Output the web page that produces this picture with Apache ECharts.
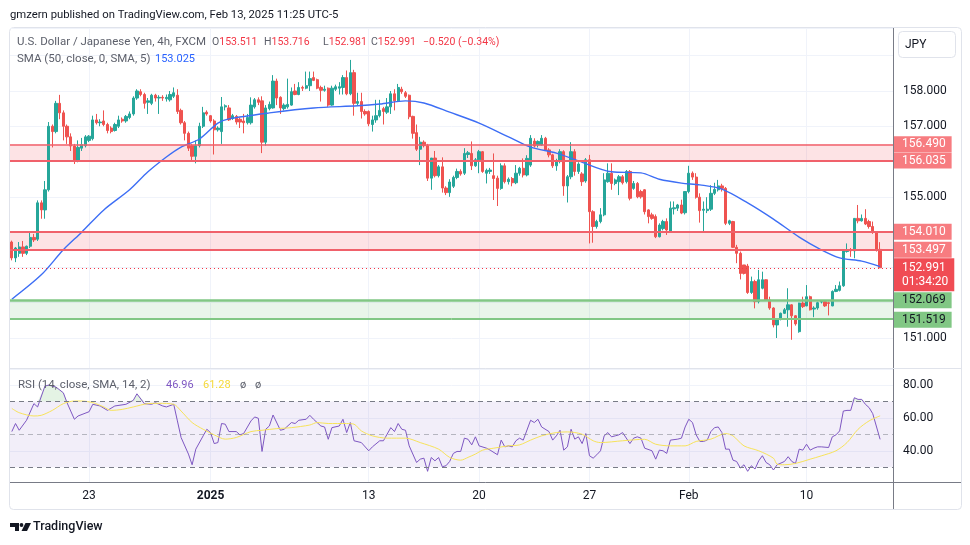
<!DOCTYPE html>
<html>
<head>
<meta charset="utf-8">
<script src="https://cdn.jsdelivr.net/npm/echarts@6.0.0/dist/echarts.min.js"></script>
<style>
html, body { margin: 0; padding: 0; background: #fff; }
#chart { width: 970px; height: 545px; }
</style>
</head>
<body>
<div id="chart"></div>
<script>
// USDJPY 4h candles, [open, high, low, close]
var candles = [
    // Dec 19 - Dec 31
    [153.72,153.76,153.20,153.27],[153.27,153.58,153.15,153.55],[153.40,153.72,153.30,153.58],[153.58,153.75,153.30,153.40],
    [153.40,153.62,153.35,153.60],[153.60,154.00,153.55,153.85],[153.85,153.95,153.72,153.78],[153.80,154.90,153.75,154.83],
    [154.83,154.90,154.38,154.63],[154.63,155.45,154.38,155.20],[155.20,157.12,155.15,157.00],[157.00,157.05,156.40,156.85],
    [156.85,157.72,156.80,157.65],[157.65,157.89,157.20,157.38],[157.38,157.45,156.60,157.00],[157.00,157.05,156.50,156.70],
    [156.70,156.80,156.30,156.44],[156.44,156.50,155.93,156.02],[156.02,156.60,155.98,156.40],[156.38,156.67,156.30,156.48],
    [156.45,156.75,156.40,156.70],[156.60,156.75,156.55,156.72],[156.65,157.30,156.60,157.18],[157.18,157.35,157.05,157.10],
    [157.10,157.20,157.00,157.12],[157.15,157.45,157.00,157.05],[157.05,157.10,156.80,156.88],[156.95,157.00,156.80,156.85],
    [156.88,157.10,156.85,157.05],[157.00,157.30,156.95,157.18],[157.20,157.25,157.10,157.15],[157.15,157.32,157.10,157.28],
    [157.25,157.42,157.20,157.35],[157.35,157.85,157.30,157.80],[157.80,158.05,157.75,158.00],[157.98,158.05,157.85,157.90],
    [157.90,157.95,157.50,157.65],[157.68,157.80,157.35,157.72],[157.65,157.92,157.60,157.88],[157.88,157.92,157.70,157.80],
    [157.80,157.88,157.35,157.82],[157.82,157.88,157.72,157.80],[157.78,157.90,157.70,157.82],[157.75,158.00,157.70,157.90],
    [157.85,158.10,157.80,157.95],[157.88,158.05,157.35,157.42],[157.45,157.50,157.05,157.10],[157.10,157.15,156.60,156.80],
    [156.80,156.85,156.30,156.38],[156.45,156.50,156.00,156.15],[156.15,156.60,155.95,156.45],[156.45,157.10,156.40,157.00],
    [157.00,157.55,156.95,157.38],[157.40,157.45,157.30,157.35],[157.30,157.32,157.10,157.15],[157.15,157.20,156.20,156.90],
    [156.90,157.00,156.85,156.95],[156.85,157.83,156.50,157.55],[157.55,157.62,157.45,157.58],
    // Jan 2 - Jan 17
    [157.52,157.60,157.15,157.18],[157.22,157.35,157.18,157.30],[157.28,157.32,157.05,157.12],[157.20,157.25,156.95,157.12],
    [157.15,157.35,156.80,157.10],[157.10,157.35,157.05,157.25],[157.10,157.82,157.05,157.60],[157.55,157.80,157.50,157.75],
    [157.75,157.82,157.60,157.68],[157.72,157.85,156.24,156.55],[156.55,157.60,156.45,157.52],[157.50,157.70,157.45,157.62],
    [157.52,158.45,157.50,158.28],[158.28,158.35,157.60,157.80],[157.82,157.85,157.35,157.52],[157.50,157.65,157.45,157.60],
    [157.55,158.35,157.50,157.62],[157.60,158.10,157.58,157.98],[158.00,158.20,157.88,157.90],[157.90,158.25,157.88,158.10],
    [158.10,158.15,158.00,158.08],[158.08,158.55,158.05,158.15],[158.15,158.55,158.00,158.35],[158.38,158.55,158.28,158.30],
    [158.32,158.35,158.05,158.08],[158.10,158.15,157.70,158.02],[158.02,158.15,157.98,158.05],[158.08,158.10,157.55,157.60],
    [157.60,158.15,157.58,158.08],[158.05,158.18,158.00,158.12],[158.08,158.25,157.90,158.12],[158.10,158.45,157.90,158.38],
    [158.38,158.58,157.88,157.92],[157.92,158.88,157.88,158.52],[158.52,158.60,157.30,157.65],[157.65,157.95,157.60,157.70],
    [157.70,157.95,157.22,157.42],[157.42,157.48,157.30,157.35],[157.42,157.45,157.00,157.07],[157.05,157.30,156.85,157.18],
    [157.18,157.75,157.10,157.30],[157.30,157.75,157.25,157.45],[157.50,157.55,157.05,157.42],[157.40,157.80,157.35,157.55],
    [157.55,158.00,157.35,157.92],[157.92,158.05,157.45,157.72],[157.72,158.20,157.70,158.10],[158.05,158.12,157.92,157.98],
    [157.95,158.00,157.80,157.85],[157.88,157.90,157.20,157.27],[157.28,157.30,156.65,156.80],[156.82,157.05,156.30,156.35],
    [156.35,156.70,155.90,156.55],[156.55,156.60,156.40,156.45],[156.45,156.50,155.45,155.53],[155.53,156.10,155.20,156.10],
    [156.10,156.30,155.55,155.60],[155.60,155.90,155.55,155.85],[155.85,156.12,155.12,155.25],[155.25,155.30,155.05,155.12],
    [155.12,155.50,155.00,155.42],
    // Jan 20 - Jan 31
    [155.30,155.60,155.25,155.55],[155.55,155.80,155.50,155.72],[155.72,155.78,155.60,155.65],[155.67,156.38,155.62,156.23],
    [156.20,156.30,156.10,156.25],[156.23,156.57,155.76,155.88],[155.88,156.10,155.85,156.05],[156.05,156.33,155.67,156.28],
    [156.28,156.30,155.68,155.72],[155.67,155.80,155.38,155.75],[155.72,155.82,155.65,155.76],[155.60,156.23,154.91,155.52],
    [155.53,155.60,154.74,155.24],[155.24,155.95,155.20,155.88],[155.88,155.95,155.38,155.43],[155.43,155.55,155.35,155.50],
    [155.52,155.56,155.30,155.40],[155.40,155.90,155.36,155.67],[155.67,155.85,155.60,155.81],[155.81,156.09,155.55,155.62],
    [155.62,156.18,155.58,156.09],[155.90,156.75,155.85,156.66],[156.58,156.66,156.40,156.44],[156.47,156.60,156.40,156.57],
    [156.47,156.75,156.45,156.66],[156.66,156.70,156.30,156.33],[156.33,156.38,156.12,156.19],[156.19,156.22,155.82,155.88],
    [155.88,156.08,155.74,156.02],[156.00,156.35,155.95,156.28],[156.28,156.32,155.03,155.31],[155.31,155.62,154.84,155.57],
    [155.57,156.55,155.50,156.28],[156.28,156.35,155.60,155.72],[155.72,155.98,155.65,155.93],[155.65,155.70,155.31,155.43],
    [155.45,156.10,155.40,156.05],[156.05,156.19,153.68,154.58],[154.58,154.62,153.70,154.16],[154.16,154.35,154.10,154.30],
    [154.30,154.68,154.25,154.49],[154.49,155.67,154.45,155.48],[155.43,155.95,155.40,155.67],[155.67,155.95,155.20,155.38],
    [155.38,155.52,155.33,155.48],[155.43,155.62,155.05,155.57],[155.57,155.62,155.35,155.40],[155.43,155.76,155.38,155.72],
    [155.72,155.76,154.90,154.96],[155.24,155.45,155.20,155.38],[155.38,155.42,154.96,155.00],[155.15,155.20,154.95,155.00],
    [155.20,155.22,154.50,154.58],[154.63,154.65,154.25,154.44],[154.49,154.55,154.35,154.39],[154.44,154.50,153.83,153.87],
    [153.87,154.25,153.85,154.20],[154.10,154.35,154.05,154.30],[154.30,154.39,153.92,154.06],
    // Feb 2 - Feb 13
    [154.02,154.87,153.99,154.68],[154.66,154.87,154.50,154.69],[154.68,154.80,154.60,154.77],[154.77,154.92,154.51,154.54],
    [154.55,155.15,154.50,155.15],[155.15,155.88,155.10,155.67],[155.67,155.72,155.48,155.56],[155.56,155.67,154.95,154.99],
    [154.99,155.10,154.27,154.61],[154.62,154.87,154.00,154.65],[154.61,154.99,154.54,154.65],[154.65,155.33,154.60,155.10],
    [155.10,155.40,155.05,155.21],[155.20,155.48,155.15,155.31],[155.31,155.37,155.15,155.24],[155.24,155.28,154.20,154.25],
    [154.25,154.35,154.20,154.32],[154.30,154.32,153.55,153.57],[153.57,153.64,153.12,153.40],[153.40,153.45,152.66,152.83],
    [153.07,153.07,152.80,152.83],[153.04,153.10,152.25,152.29],[152.29,152.74,152.25,152.60],[152.60,152.65,151.84,152.03],
    [152.03,152.93,151.98,152.65],[152.41,152.88,152.38,152.65],[152.65,152.66,152.05,152.08],[152.08,152.17,151.80,151.85],
    [151.85,151.87,151.30,151.37],[151.37,151.55,151.00,151.53],[151.53,151.72,151.50,151.70],[151.70,151.85,151.68,151.80],
    [151.80,152.41,151.32,151.94],[151.94,151.96,150.95,151.63],[151.63,151.65,151.35,151.40],[151.18,152.00,151.15,151.99],
    [151.99,152.17,151.85,151.89],[151.91,152.50,151.90,152.17],[152.17,152.20,151.78,151.80],[151.82,151.90,151.59,151.85],
    [151.85,152.03,151.80,152.00],[152.02,152.06,151.98,152.03],[152.03,152.06,151.88,151.91],[152.00,152.03,151.64,151.98],
    [151.91,152.35,151.90,152.32],[152.32,152.50,152.30,152.38],[152.35,152.60,152.32,152.48],[152.48,153.50,152.45,153.47],
    [153.45,153.68,153.42,153.50],[153.50,153.55,153.30,153.47],[153.47,154.40,153.26,154.39],[154.39,154.77,154.25,154.32],
    [154.32,154.50,154.30,154.39],[154.39,154.65,154.20,154.23],[154.30,154.35,154.10,154.16],[154.16,154.30,153.95,153.99],
    [153.99,154.00,153.45,153.50],[153.511,153.716,152.981,152.991]
];

// SMA(50) line, [candle index, value]
var smaPoints = [
    [0,152.10],[8,152.79],[14,153.50],[19,154.00],[25,154.63],[32,155.20],[37,155.71],[42,156.13],[46,156.41],
    [51,156.64],[56,157.09],[59,157.21],[70,157.38],[82,157.52],[94,157.58],[100,157.63],[107,157.72],[112,157.66],
    [119,157.40],[127,157.09],[135,156.70],[141,156.41],[148,156.24],[154,156.02],[163,155.71],[171,155.68],
    [176,155.50],[182,155.39],[187,155.34],[193,155.22],[200,154.83],[207,154.37],[214,153.86],[220,153.50],
    [225,153.27],[231,153.18],[236,153.025]
];

// RSI(14), [candle index, value]
var rsiPoints = [
    [0,51.7],[1,56.6],[2,52.5],[4,58.6],[6,68.7],[7,66.7],[9,79.4],[10,80],[12,78.8],[14,75.3],[15,69.3],[16,64.2],
    [17,59.2],[18,61.2],[21,63.8],[22,68.3],[24,67.3],[26,64.6],[28,67.3],[31,68.3],[33,70.7],[34,74.7],[36,68.7],
    [38,68.3],[39,69.3],[41,67.3],[42,66.7],[44,68.3],[45,58.2],[46,48.1],[48,38],[49,31.5],[50,41],[52,49.1],
    [53,53.1],[54,51.1],[55,44.4],[56,45],[57,56.6],[58,56.2],[59,51.7],[61,51.7],[62,49.7],[63,50.5],[65,58.2],
    [66,60.6],[67,59.8],[68,39.6],[69,53.1],[70,55.1],[71,61.8],[73,52.5],[74,53.1],[76,57.2],[77,56.6],[78,58.6],
    [80,59.2],[81,61.6],[82,59.2],[84,55.1],[85,54.5],[86,47],[87,54.1],[89,55.1],[90,59.2],[91,51.1],[92,57.2],
    [93,46.1],[95,45],[97,40],[98,42.4],[100,46.1],[101,46.1],[103,54.1],[104,51.7],[105,56.6],[106,53.1],[107,52.5],
    [108,43],[110,32.9],[111,34.9],[112,35.5],[113,27.5],[114,35.9],[115,33.9],[116,35.9],[117,30.3],[118,30.9],
    [119,33.5],[120,38.4],[121,39.6],[122,39.6],[123,47.7],[124,47],[125,43.6],[126,48.5],[127,43],[129,41.6],
    [130,40.4],[132,37.6],[133,46.5],[134,42.4],[135,43],[136,42.4],[137,46.1],[138,47.7],[139,46.5],[141,58.6],
    [142,57.2],[143,59.2],[144,54.5],[146,51.7],[147,46.5],[148,49.1],[149,52.5],[150,40.4],[151,42.4],[152,53.1],
    [153,47.1],[154,48.5],[155,44.4],[156,50.5],[157,37],[158,35.5],[159,37.6],[160,40],[161,49.1],[162,51.1],
    [163,48.5],[164,49.1],[165,49.7],[166,51.1],[168,44.4],[169,47.7],[170,48.5],[171,47.7],[172,41.6],[174,40],
    [175,34.9],[176,40.4],[177,40],[178,38.4],[179,46.5],[181,47.1],[182,47.7],[183,54.5],[184,59.2],[185,57.2],
    [186,49.7],[187,45.7],[188,45.7],[189,46.5],[190,51.7],[191,54.1],[192,54.5],[193,51.1],[194,41],[195,41],
    [196,34.3],[197,33.5],[198,29.5],[199,31.5],[200,27.5],[201,30.9],[202,28.9],[203,33.9],[204,37],[205,32.9],
    [206,31.5],[207,28.3],[208,31.5],[210,33.5],[211,36.4],[212,33.5],[213,32.3],[214,41],[215,40.4],[216,44],
    [217,40.4],[218,41.6],[219,42.4],[220,42.4],[222,42],[223,48.5],[224,49.7],[225,52.1],[226,64.2],[227,64.6],
    [228,64.6],[229,72.3],[230,71.3],[231,71.3],[232,68.3],[233,66.3],[234,62.6],[236,46.96]
];

// SMA(14) of RSI
var rsiSmaPoints = [
    [0,65.8],[2,63.2],[6,61.2],[8,61.6],[11,64.6],[14,68.7],[17,70.3],[19,70.3],[22,69.3],[25,66.7],[27,64.6],
    [30,65.2],[33,66.7],[37,68.7],[40,68.9],[44,68.3],[46,64.2],[49,57.2],[52,53.1],[55,49.7],[58,47.1],[61,48.1],
    [65,51.7],[68,52.5],[72,53.5],[76,54.1],[81,55.7],[83,57.2],[86,56.6],[91,56.6],[93,56.2],[95,52.1],[98,49.1],
    [102,47.7],[107,47.7],[111,45],[116,41],[119,36],[122,34.3],[124,36],[126,38],[128,40.4],[131,41.6],[135,43],
    [138,43.6],[141,46.5],[144,49.1],[148,51.1],[151,51.5],[155,50.1],[158,46.1],[160,45],[166,46.1],[172,47],
    [175,44],[179,43],[183,43],[186,45.7],[190,47.1],[194,50.5],[196,49.1],[199,43],[203,40],[207,35.5],[208,31.9],
    [210,31.5],[213,32.3],[217,34.9],[220,36.9],[224,40],[227,45],[230,53.1],[233,58.2],[236,61.28]
];

// time axis labels by candle index
var timeLabels = { 21: '23', 54: '2025', 97: '13', 127: '20', 157: '27', 184: 'Feb', 216: '10' };

// drawn levels
var resistanceZone = [156.035, 156.490];
var middleZone = [153.497, 154.010];
var supportZone = [151.519, 152.069];
var lastClose = 152.991;
var countdown = '01:34:20';
var priceTicks = [151, 155, 157, 158];
var rsiTicks = [40, 60, 80];

var UP = '#26a69a', DOWN = '#ef5350';
var ZONE_RED = '#f0616b', BADGE_RED = '#f77c80', ZONE_GREEN = '#81c784';
var FONT = 'Roboto, sans-serif';
var LEGEND_FONT = '11px ' + FONT;
var OHLC_FONT = '10.5px ' + FONT;

var slots = candles.length + 3;
var cats = [];
for (var i = 0; i < slots; i++) cats.push(String(i));

var kData = candles.map(function (c) { return [c[0], c[3], c[2], c[1]]; });
var rsiOver = rsiPoints.map(function (p) { return [p[0], Math.max(p[1], 70)]; });

function isTimeTick(idx) { return timeLabels.hasOwnProperty(idx); }

function levelLine(val, color, width, badge, textColor) {
    var item = {
        yAxis: val,
        lineStyle: { color: color, width: width, type: 'solid' }
    };
    if (badge) {
        item.label = {
            show: true, position: 'end', distance: 1,
            formatter: val.toFixed(3),
            backgroundColor: badge, color: textColor,
            padding: [1, 6, 1, 8], lineHeight: 14,
            fontSize: 12, fontFamily: FONT
        };
    } else {
        item.label = { show: false };
    }
    return item;
}

function text(x, y, str, fill, font, extra) {
    var el = {
        type: 'text', x: x, y: y, z: 100, silent: true,
        style: { text: str, fill: fill, font: font || LEGEND_FONT, verticalAlign: 'middle' }
    };
    if (extra) for (var k in extra) el.style[k] = extra[k];
    return el;
}

function ohlcText(x, letter, value) {
    return text(x, 42, '{l|' + letter + '}{v|' + value + '}', '#5d606b', OHLC_FONT, {
        rich: { l: { fill: '#5d606b', font: OHLC_FONT }, v: { fill: '#f23645', font: OHLC_FONT } }
    });
}

var option = {
    animation: false,
    backgroundColor: '#ffffff',
    grid: [
        { left: 10, right: 77, top: 28, height: 340 },
        { left: 10, right: 77, top: 369, height: 113 }
    ],
    xAxis: [
        {
            type: 'category', gridIndex: 0, data: cats, boundaryGap: true,
            axisLine: { show: false }, axisTick: { show: false }, axisLabel: { show: false },
            splitLine: { show: true, alignWithLabel: true, interval: isTimeTick, lineStyle: { color: '#f0f3fa' } }
        },
        {
            type: 'category', gridIndex: 1, data: cats, boundaryGap: true,
            axisLine: { show: false }, axisTick: { show: false },
            axisLabel: {
                show: true, interval: isTimeTick, margin: 8,
                color: '#131722', fontSize: 12, fontFamily: FONT,
                formatter: function (v, idx) {
                    var t = timeLabels[idx];
                    if (!t) return '';
                    return t === '2025' ? '{b|2025}' : t;
                },
                rich: { b: { fontWeight: 'bold', fontSize: 12, fontFamily: FONT, color: '#131722' } }
            },
            splitLine: { show: true, alignWithLabel: true, interval: isTimeTick, lineStyle: { color: '#f0f3fa' } }
        }
    ],
    yAxis: [
        {
            type: 'value', gridIndex: 0, position: 'right', scale: true,
            min: 150.15, max: 159.785, minInterval: 1, maxInterval: 1,
            axisLine: { show: false }, axisTick: { show: false },
            axisLabel: {
                color: '#131722', fontSize: 12, fontFamily: FONT, margin: 10,
                showMinLabel: false, showMaxLabel: false,
                formatter: function (v) {
                    return priceTicks.indexOf(Math.round(v * 1000) / 1000) >= 0 ? v.toFixed(3) : '';
                }
            },
            splitLine: { lineStyle: { color: '#f0f3fa' } }
        },
        {
            type: 'value', gridIndex: 1, position: 'right', scale: true,
            min: 21, max: 89.8, minInterval: 20, maxInterval: 20,
            axisLine: { show: false }, axisTick: { show: false },
            axisLabel: {
                color: '#131722', fontSize: 12, fontFamily: FONT, margin: 10,
                showMinLabel: false, showMaxLabel: false,
                formatter: function (v) {
                    return rsiTicks.indexOf(Math.round(v)) >= 0 && Math.abs(v - Math.round(v)) < 1e-6 ? v.toFixed(2) : '';
                }
            },
            splitLine: { lineStyle: { color: '#f0f3fa' } }
        }
    ],
    series: [
        {
            name: 'USDJPY', type: 'candlestick', xAxisIndex: 0, yAxisIndex: 0,
            data: kData, barWidth: '76%', z: 2,
            itemStyle: { color: UP, color0: DOWN, borderColor: UP, borderColor0: DOWN, borderWidth: 1 },
            markArea: {
                silent: true,
                data: [
                    [{ yAxis: resistanceZone[0], itemStyle: { color: 'rgba(242,54,69,0.14)' } }, { yAxis: resistanceZone[1] }],
                    [{ yAxis: middleZone[0], itemStyle: { color: 'rgba(242,54,69,0.14)' } }, { yAxis: middleZone[1] }],
                    [{ yAxis: supportZone[0], itemStyle: { color: 'rgba(76,175,80,0.12)' } }, { yAxis: supportZone[1] }]
                ]
            },
            markLine: {
                silent: true, symbol: ['none', 'none'], animation: false,
                data: [
                    levelLine(resistanceZone[1], ZONE_RED, 1.5, BADGE_RED, '#ffffff'),
                    levelLine(resistanceZone[0], ZONE_RED, 2, BADGE_RED, '#ffffff'),
                    levelLine(middleZone[1], ZONE_RED, 2, BADGE_RED, '#ffffff'),
                    levelLine(middleZone[0], ZONE_RED, 2, BADGE_RED, '#ffffff'),
                    levelLine(supportZone[1], ZONE_GREEN, 2.5, ZONE_GREEN, '#131722'),
                    levelLine(supportZone[0], ZONE_GREEN, 1, ZONE_GREEN, '#131722'),
                    levelLine(supportZone[0] + 0.05, ZONE_GREEN, 1, null, null),
                    {
                        yAxis: lastClose,
                        lineStyle: { color: '#f23645', width: 1, type: [1, 3] },
                        label: {
                            show: true, position: 'end', distance: 1,
                            formatter: lastClose.toFixed(3) + '\n' + countdown,
                            backgroundColor: '#f04c54', color: '#ffffff',
                            padding: [2, 6, 3, 8], lineHeight: 14, offset: [0, 7],
                            fontSize: 12, fontFamily: FONT
                        }
                    }
                ]
            }
        },
        {
            name: 'SMA 50', type: 'line', xAxisIndex: 0, yAxisIndex: 0,
            data: smaPoints, showSymbol: false, smooth: 0.3, z: 3,
            lineStyle: { color: '#3d6ef5', width: 1.4 }
        },
        {
            name: 'RSI', type: 'line', xAxisIndex: 1, yAxisIndex: 1,
            data: rsiPoints, showSymbol: false, z: 3,
            lineStyle: { color: '#7e57c2', width: 1 },
            markArea: {
                silent: true,
                data: [[{ yAxis: 30, itemStyle: { color: 'rgba(126,87,194,0.1)' } }, { yAxis: 70 }]]
            },
            markLine: {
                silent: true, symbol: ['none', 'none'], animation: false,
                label: { show: false },
                data: [
                    { yAxis: 70, lineStyle: { color: '#787b86', type: [5, 4], width: 1 } },
                    { yAxis: 50, lineStyle: { color: 'rgba(120,123,134,0.5)', type: [5, 4], width: 1 } },
                    { yAxis: 30, lineStyle: { color: '#787b86', type: [5, 4], width: 1 } }
                ]
            }
        },
        {
            name: 'RSI overbought', type: 'line', xAxisIndex: 1, yAxisIndex: 1,
            data: rsiOver, showSymbol: false, z: 2,
            lineStyle: { opacity: 0, width: 0 },
            areaStyle: { origin: 70, color: 'rgba(76,175,80,0.22)' }
        },
        {
            name: 'RSI SMA', type: 'line', xAxisIndex: 1, yAxisIndex: 1,
            data: rsiSmaPoints, showSymbol: false, smooth: 0.3, z: 3,
            lineStyle: { color: '#f7e35a', width: 1 }
        }
    ],
    graphic: {
        elements: [
            { type: 'rect', silent: true, z: -10, shape: { x: 9.5, y: 27.5, width: 952, height: 482, r: 4 }, style: { fill: 'none', stroke: '#e0e3eb', lineWidth: 1 } },
            { type: 'line', silent: true, z: 50, shape: { x1: 893.5, y1: 28, x2: 893.5, y2: 509 }, style: { stroke: '#787b86', lineWidth: 1 } },
            { type: 'line', silent: true, z: 50, shape: { x1: 10, y1: 368.5, x2: 961, y2: 368.5 }, style: { stroke: '#e0e3eb', lineWidth: 1 } },
            { type: 'line', silent: true, z: 50, shape: { x1: 10, y1: 482.5, x2: 961, y2: 482.5 }, style: { stroke: '#787b86', lineWidth: 1 } },

            text(10, 15, 'gmzern published on TradingView.com, Feb 13, 2025 11:25 UTC-5', '#131722', '11.3px ' + FONT),

            text(17, 42, 'U.S. Dollar / Japanese Yen, 4h, FXCM', '#5d606b', '11.5px ' + FONT),
            ohlcText(212, 'O', '153.511'),
            ohlcText(264, 'H', '153.716'),
            ohlcText(323, 'L', '152.981'),
            ohlcText(371, 'C', '152.991'),
            text(423, 42, '\u22120.520 (\u22120.34%)', '#f23645', OHLC_FONT),

            text(17, 59, 'SMA (50, close, 0, SMA, 5)', '#5d606b', '11.5px ' + FONT),
            text(155, 59, '153.025', '#2962ff'),

            text(18, 385, 'RSI (14, close, SMA, 14, 2)', '#5d606b', '11.5px ' + FONT),
            text(166, 385, '46.96', '#7e57c2'),
            text(203, 385, '61.28', '#f5d93a'),
            text(240, 385, '\u00f8', '#5d606b'),
            text(255, 385, '\u00f8', '#5d606b'),

            { type: 'rect', silent: true, z: 60, shape: { x: 898.5, y: 31.5, width: 57, height: 26, r: 4 }, style: { fill: '#ffffff', stroke: '#e0e3eb', lineWidth: 1 } },
            text(905, 44.5, 'JPY', '#131722', '12px ' + FONT),

            { type: 'polygon', silent: true, z: 100, shape: { points: [[10, 523], [19, 523], [19, 531], [15, 531], [15, 527], [10, 527]] }, style: { fill: '#131722' } },
            { type: 'circle', silent: true, z: 100, shape: { cx: 21.5, cy: 525, r: 1.9 }, style: { fill: '#131722' } },
            { type: 'polygon', silent: true, z: 100, shape: { points: [[25.5, 523], [31, 523], [27, 531], [21.5, 531]] }, style: { fill: '#131722' } },
            text(33, 527, 'TradingView', '#131722', '500 12.5px ' + FONT)
        ]
    }
};

var chart = echarts.init(document.getElementById('chart'));
chart.setOption(option);
</script>
</body>
</html>
